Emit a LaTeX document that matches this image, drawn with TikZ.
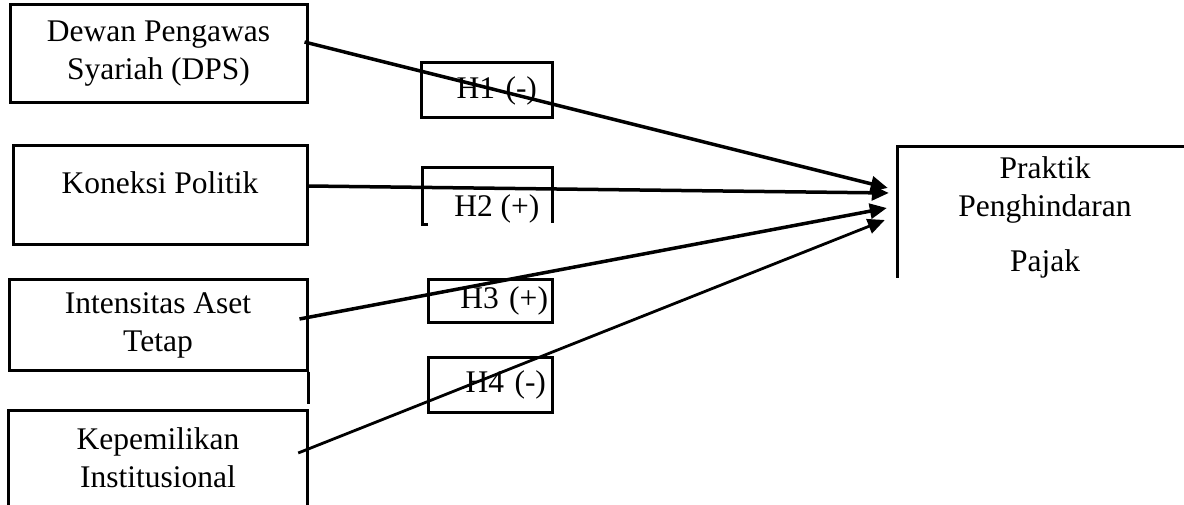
\documentclass[tikz,border=0pt]{standalone}
\usepackage{fontspec}
\setmainfont{Liberation Serif}
\usetikzlibrary{arrows.meta}

\tikzset{
  varbox/.style={draw, line width=3pt, align=center, inner sep=0pt},
  hbox/.style={draw, line width=3pt, align=right, inner ysep=0pt},
  hyp/.style={line width=3.5pt, -{Triangle[length=17pt,width=15pt]}}
}

\begin{document}
\begin{tikzpicture}[x=1pt, y=-1pt, font=\fontsize{31.5}{38}\selectfont]
            \useasboundingbox (0,0) rectangle (1184,505);
            % independent variables
            \node[varbox, minimum width=297, minimum height=98] (dps) at (158.5,54) {Dewan Pengawas\\Syariah (DPS)};
            \node[varbox, minimum width=294, minimum height=99] (kp) at (160,195.5) {};
            \node[anchor=base] (kptext) at (160,194) {Koneksi Politik};
            \node[varbox, minimum width=298, minimum height=90] (ia) at (158,325) {Intensitas Aset\\Tetap};
            \draw[line width=3pt] (ia.south east) -- ++(0,32);
            \node[align=center, minimum width=298, minimum height=94, inner sep=0pt] (kep) at (158,458) {Kepemilikan\\Institusional};
            \draw[line width=3pt] (kep.south west) -- (kep.north west) -- (kep.north east) -- (kep.south east);
            % dependent variable
            \node[align=center, minimum width=294, minimum height=141, inner sep=0pt] (tgt) at (1045,217.5) {Praktik\\Penghindaran\\[17pt]Pajak};
            \draw[line width=3pt] (tgt.north east) -- (tgt.north west) -- ([yshift=10pt]tgt.south west);
            % hypotheses
            \node[hbox, inner xsep=15pt, text width=101pt, minimum height=55] (h1) at (486.5,90.5) {H1 (-)};
            \node[anchor=base east] (h2) at (543,217) {H2 (+)};
            \draw[line width=3pt] (428,225) -| (422,168) -| (552,223);
            \node[hbox, inner xsep=4pt, text width=116pt, minimum height=42] (h3) at (490,301) {H3 (+)};
            \node[hbox, inner xsep=6pt, text width=112pt, minimum height=55] (h4) at (490,384.5) {H4 (-)};
            % paths
            \draw[hyp] ([xshift=-4pt, yshift=12pt]dps.east) -- ([xshift=-10pt, yshift=29.5pt]tgt.west);
            \draw[hyp] ([xshift=-1pt, yshift=9.5pt]kp.east) -- ([xshift=-9pt, yshift=24.5pt]tgt.west);
            \draw[hyp] ([xshift=-9pt, yshift=6pt]ia.east) -- ([xshift=-11pt, yshift=9.5pt]tgt.west);
            \draw[hyp, line width=2.8pt] ([xshift=-9pt, yshift=5pt]kep.east) -- ([xshift=-13pt, yshift=-2.5pt]tgt.west);
        \end{tikzpicture}
\end{document}
